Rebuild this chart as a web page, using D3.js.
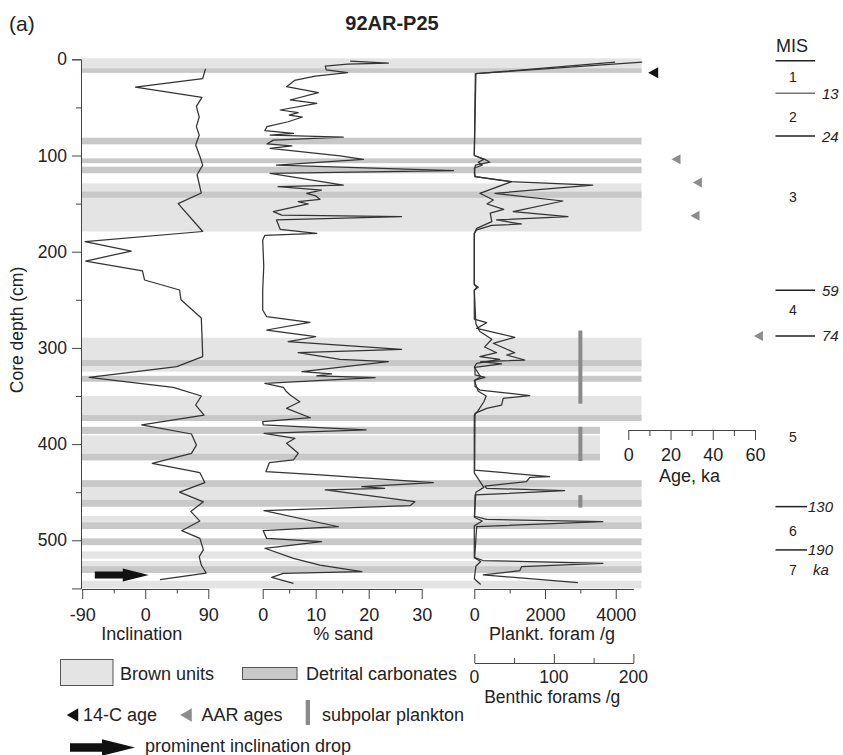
<!DOCTYPE html>
<html><head><meta charset="utf-8">
<script src="https://cdn.jsdelivr.net/npm/d3@7/dist/d3.min.js"></script>
<style>
body{margin:0;background:#fff}
svg{display:block}
text{font-family:"Liberation Sans",Arial,Helvetica,sans-serif;fill:#222}
</style>
</head><body>
<svg id="chart" width="843" height="755"></svg>
<script>
// ---------- DATA ----------
// Paleomagnetic inclination [depth cm, degrees]
const inclination = [[10,86],[20,82],[29,-14],[39.5,81],[49,73],[60,77],[70,73],[79,77],[89,72],[101,78],[110,82],[120,74],[139,80],[150,47],[179,82],[189.6,-86],[199.3,-20],[209.7,-85],[220,-4],[229.4,-1],[239.8,49],[250,51],[269,80],[287,81],[309,82],[319.5,45],[330.6,-80],[341,40],[350,80],[359.4,72],[369.8,84],[380,-5],[389.5,66],[401,73],[409.6,66],[420,10],[429.7,78],[440,85],[450,49],[460,83],[470,65],[480,78],[490,52],[498,78],[510,83],[517,77],[525.7,80],[534,87],[541,21]];
// % sand [depth, %]
const sand = [[2,16.5],[4,23.7],[5,16],[7,11.8],[11,12],[13.9,16],[17.4,9.9],[22,6],[28.5,4.5],[34.7,10.5],[42.3,5.2],[45.8,10.2],[52.7,3.3],[55.5,6.7],[58,5],[60,7.5],[64.9,4.8],[70,0.8],[74.2,0.4],[77,5.8],[78.7,1.4],[81,15.2],[84,2],[88,0.8],[90,5.5],[92.5,1.4],[100.5,14.6],[104,19],[110,2.6],[115.8,36],[118.5,1.4],[130.7,15.2],[132.4,2.9],[135.9,11.1],[139.3,8.3],[142,10],[145.5,10.8],[148,6.7],[150.4,8.6],[158.4,2],[161.9,3.6],[163.6,26.2],[167,2.6],[176.7,3.3],[180.9,10.2],[183,0.4],[188,0],[215,0.2],[240,0],[260.6,0],[267.6,0.75],[273.4,8.9],[281.4,0.75],[288.4,10],[293.5,4.8],[301.5,26.2],[305,6.7],[311.9,14.6],[314.3,23.7],[324.7,7.4],[327,13],[329.2,10.2],[331,21.2],[336.8,0.4],[341,3.9],[345,4.4],[349,5.2],[356,7],[362.8,4.5],[372.6,9],[376.7,0],[380,0.1],[385.3,19.5],[388.8,0.25],[394,6.1],[399.2,4.5],[409.6,6.7],[416.5,5.8],[419.3,1.25],[428.7,0.6],[432,10.8],[440,32.2],[444.3,18.7],[446,23],[447.7,11.8],[459.9,28.7],[464,27.8],[469.2,0.25],[485.9,14.3],[490,0.1],[498,0.75],[501.4,11.1],[508.3,0.4],[518.7,5.8],[525.7,10.8],[532.6,18.7],[534.3,3.9],[538.5,1.7],[544.7,5.8]];
// Planktic foraminifera per gram [depth, count]
const plankt = [[3,4750],[15,30],[100,0],[104,300],[107,440],[110,30],[118,0],[122,20],[127.2,1005],[130.7,3350],[139.3,583],[147.3,2507],[158.4,1099],[163.6,2648],[167,631],[171.2,1335],[172.6,490],[177.4,68],[181,0],[234,0],[237,113],[240,0],[270,0],[273.8,349],[279.7,68],[289,1146],[295.2,535],[305,1146],[307.4,913],[312.6,1428],[314.3,180],[316.7,772],[320.2,20],[328,20],[330.6,301],[333.4,20],[340,20],[343.8,160],[349.7,1569],[352.4,817],[359.4,772],[362.8,349],[368,20],[427,10],[433.9,2132],[434.5,1569],[439,1476],[443.6,301],[446,349],[448.4,2555],[452.9,20],[475,10],[478.2,349],[480.7,3634],[485.9,68],[518,10],[521,250],[524,3634],[527.4,1335],[531.6,1287],[536,254],[544,2930]];
// Benthic foraminifera per gram [depth, count]
const benthic = [[3,177],[15,2],[100,0],[104,12],[107,5],[110,10],[113,0],[122,1],[127.2,47],[139.3,7],[146.3,24],[150.4,16],[156,37],[160,20],[168.8,22],[175.7,3],[181,0],[234,0],[237,3],[240,0],[275,2],[283,7],[291,22],[299,13],[305,28],[309,7],[312,32],[316,3],[320,0],[330,8],[334,0],[345,5],[350,15],[356,12],[365,5],[370,0],[430,0],[440,8],[445,12],[450,2],[476,0],[480,10],[485,0],[518,0],[522,8],[527,2],[540,0],[546,8]];
// Lithologic units [top, bottom] depth
const brownUnits = [[-1,14],[129,179],[289.4,324.7],[350,376],[391,409.8],[437.6,465],[474.8,488.3],[511.5,519],[521.5,534],[542,550]];
const detritalCarbonates = [[9.4,14],[81.5,88.4],[103,108],[111.6,118.5],[137.6,143.9],[312.6,318.9],[329,335.2],[369.8,376],[382,389.4],[409.8,417],[437.6,444.5],[458,465],[481.4,488.3],[498,505],[527,534]];
const shortBandDepths = [380, 420];
// Subpolar plankton intervals [top, bottom]
const subpolar = [[282,358],[382,417.6],[453,466]];
// Age control points [depth, age ka]
const c14Ages = [[14,11.8]];
const aarAges = [[104,22.6],[128,32.7],[162.6,31.6],[287.6,61.6]];
// MIS boundaries
const misDepths = [0,35.4,79.8,240,287.6,465,510];
const misAges = ["","13","24","59","74","130","190"];
const misStages = ["1","2","3","4","5","6","7"];
const misStageDepths = [18.5,60.3,142.8,260.6,392.3,490,531];
const inclinationDrop = {depth:536, from:-72, to:5};
// Axis ticks
const depthTicks = [0,100,200,300,400,500];
const depthMinor = [50,150,250,350,450];
const incTicks = [-90,0,90], incMinor = [-45,45];
const sandTicks = [0,10,20,30], sandMinor = [5,15,25];
const planktTicks = [0,2000,4000], planktMinor = [1000,3000];
const benthTicks = [0,100,200], benthMinor = [50,150];
const ageTicks = [0,20,40,60], ageMinor = [10,30,50];

// ---------- SCALES ----------
const svg = d3.select("#chart");
const y = d3.scaleLinear().domain([0,550]).range([59.3,588.4]);
const xInc = d3.scaleLinear().domain([-90,90]).range([82.2,208.3]);
const xSand = d3.scaleLinear().domain([0,30]).range([262.7,421.7]);
const xPl = d3.scaleLinear().domain([0,4500]).range([474.3,633.4]);
const xBe = d3.scaleLinear().domain([0,200]).range([474.3,633.4]);
const xAge = d3.scaleLinear().domain([0,60]).range([628.3,755]);
const FS = 18;
const FONT = '"Liberation Sans",Arial,sans-serif';
const bandLeft = 81, bandRight = 641.5, shortRight = 600;

// ---------- BANDS ----------
function drawBands(data, fill){
  svg.append("g").selectAll("rect").data(data).join("rect")
    .attr("x", bandLeft)
    .attr("y", d=>y(d[0]))
    .attr("width", d=> (d[0]>=shortBandDepths[0] && d[1]<=shortBandDepths[1] ? shortRight : bandRight) - bandLeft)
    .attr("height", d=>y(d[1])-y(d[0]))
    .attr("fill", fill);
}
drawBands(brownUnits, "#e4e4e4");
drawBands(detritalCarbonates, "#c8c8c8");

// ---------- CURVES ----------
function curve(data, xs){
  svg.append("path").datum(data)
    .attr("d", d3.line().x(d=>xs(d[1])).y(d=>y(d[0])))
    .attr("fill","none").attr("stroke","#333").attr("stroke-width",1.25)
    .attr("stroke-linejoin","round");
}
curve(inclination, xInc);
curve(sand, xSand);
curve(benthic, xBe);
curve(plankt, xPl);

// subpolar plankton bars
svg.append("g").selectAll("rect").data(subpolar).join("rect")
  .attr("x", xPl(3000)-2).attr("width",4)
  .attr("y", d=>y(d[0])).attr("height", d=>y(d[1])-y(d[0]))
  .attr("fill","#8a8a8a");

// inclination drop arrow
function arrow(g, x0, x1, cy, shaft, head, headLen){
  const xm = x1 - headLen;
  g.append("path")
    .attr("d", `M${x0},${cy-shaft/2}L${xm},${cy-shaft/2}L${xm},${cy-head/2}L${x1},${cy}L${xm},${cy+head/2}L${xm},${cy+shaft/2}L${x0},${cy+shaft/2}Z`)
    .attr("fill","#111");
}
arrow(svg, xInc(inclinationDrop.from), xInc(inclinationDrop.to), y(inclinationDrop.depth), 7, 13, 26);

// ---------- Y AXIS ----------
const yAxisG = svg.append("g").attr("transform","translate(81,0)");
yAxisG.call(d3.axisLeft(y).tickValues(depthTicks).tickSize(9).tickPadding(5));
yAxisG.append("g").call(d3.axisLeft(y).tickValues(depthMinor).tickSize(5).tickFormat(""));
yAxisG.selectAll(".domain").attr("stroke","#444");
yAxisG.selectAll(".tick line").attr("stroke","#444");
yAxisG.selectAll("text").attr("font-size",17.5).attr("fill","#222").attr("font-family",FONT);
yAxisG.selectAll("g g .domain").remove();
svg.append("text").attr("transform","translate(23,330) rotate(-90)")
  .attr("text-anchor","middle").attr("font-size",17.5).text("Core depth (cm)");

// ---------- BOTTOM AXES ----------
const axisY = 589;
function bottomAxis(xs, major, minor, fmt){
  const g = svg.append("g").attr("transform",`translate(0,${axisY})`);
  g.call(d3.axisBottom(xs).tickValues(major).tickSize(10).tickPadding(9).tickFormat(fmt||d3.format("d")).tickSizeOuter(0));
  g.append("g").call(d3.axisBottom(xs).tickValues(minor).tickSize(4.5).tickFormat("")).select(".domain").remove();
  g.selectAll(".domain,.tick line").attr("stroke","#444");
  g.selectAll("text").attr("font-size",FS).attr("fill","#222").attr("font-family",FONT);
  return g;
}
bottomAxis(xInc, incTicks, incMinor, d=>d);
bottomAxis(xSand, sandTicks, sandMinor);
bottomAxis(xPl, planktTicks, planktMinor);

function label(x, yy, txt, size, anchor, extra){
  const t = svg.append("text").attr("x",x).attr("y",yy).attr("font-size",size||FS)
    .attr("text-anchor",anchor||"middle").text(txt);
  if(extra) extra(t);
  return t;
}
label(xInc(-5), 640, "Inclination");
label(xSand(15.2), 640, "% sand");
label(xPl(2200), 640, "Plankt. foram /g");

// benthic axis (ticks upward)
const bY = 663;
const bg = svg.append("g").attr("transform",`translate(0,${bY})`);
bg.call(d3.axisTop(xBe).tickValues(benthTicks).tickSize(9).tickFormat("").tickSizeOuter(0));
bg.append("g").call(d3.axisTop(xBe).tickValues(benthMinor).tickSize(5).tickFormat("")).select(".domain").remove();
bg.selectAll(".domain,.tick line").attr("stroke","#444");
benthTicks.forEach(t=>label(xBe(t), bY+19.5, String(t), 17.5));
label(xBe(98), bY+40, "Benthic forams /g", 17.5);

// ---------- AGE INSET ----------
const aY = 430;
const ag = svg.append("g").attr("transform",`translate(0,${aY})`);
ag.call(d3.axisBottom(xAge).tickValues(ageTicks).tickSize(10).tickPadding(8).tickSizeOuter(0));
ag.append("g").call(d3.axisBottom(xAge).tickValues(ageMinor).tickSize(6).tickFormat("")).select(".domain").remove();
ag.selectAll(".domain,.tick line").attr("stroke","#444");
ag.selectAll("text").attr("font-size",FS).attr("fill","#222").attr("font-family",FONT);
label(xAge(29), aY+52, "Age, ka");

function tri(g, cx, cy, w, h, fill){
  g.append("path").attr("d",`M${cx-w/2},${cy}L${cx+w/2},${cy-h/2}L${cx+w/2},${cy+h/2}Z`).attr("fill",fill);
}
c14Ages.forEach(d=>tri(svg, xAge(d[1]), y(d[0]), 10, 11, "#111"));
aarAges.forEach(d=>tri(svg, xAge(d[1]), y(d[0]), 9, 10, "#8c8c8c"));

// ---------- MIS COLUMN ----------
label(792, 52, "MIS", 18);
misDepths.forEach((d,i)=>{
  const short = misAges[i].length>2;
  svg.append("line").attr("x1",775.5).attr("x2", short?807:815)
    .attr("y1",y(d)+ (i===0?1.5:0)).attr("y2",y(d)+(i===0?1.5:0))
    .attr("stroke", i===1?"#777":"#222").attr("stroke-width",1.5);
  if(misAges[i]) label(short?808:822, y(d)+5.5, misAges[i], 15, "start", t=>t.attr("font-style","italic"));
});
misStages.forEach((s,i)=>label(793, y(misStageDepths[i])+5, s, 14));
label(813, y(misStageDepths[6])+5, "ka", 15, "start", t=>t.attr("font-style","italic"));

// ---------- TITLES ----------
label(392, 30, "92AR-P25", 20, "middle", t=>t.attr("font-weight","bold"));
label(9, 31, "(a)", 21, "start");

// ---------- LEGEND ----------
svg.append("rect").attr("x",60.5).attr("y",659.5).attr("width",52.5).attr("height",26)
  .attr("fill","#e4e4e4").attr("stroke","#555");
label(120, 680, "Brown units", FS, "start");
svg.append("rect").attr("x",242.5).attr("y",667.5).attr("width",54.5).attr("height",12)
  .attr("fill","#c8c8c8").attr("stroke","#555");
label(306, 680, "Detrital carbonates", FS, "start");

tri(svg, 72.5, 715, 11.5, 13.5, "#111");
label(83, 721, "14-C age", FS, "start");
tri(svg, 186, 715, 11.5, 13.5, "#8c8c8c");
label(201.5, 721, "AAR ages", FS, "start");
svg.append("rect").attr("x",305.7).attr("y",700).attr("width",4.3).attr("height",25).attr("fill","#8a8a8a");
label(322, 721, "subpolar plankton", FS, "start");

arrow(svg, 70, 135, 747.5, 8.3, 16.5, 33);
label(145, 752, "prominent inclination drop", FS, "start");
</script>
</body></html>
